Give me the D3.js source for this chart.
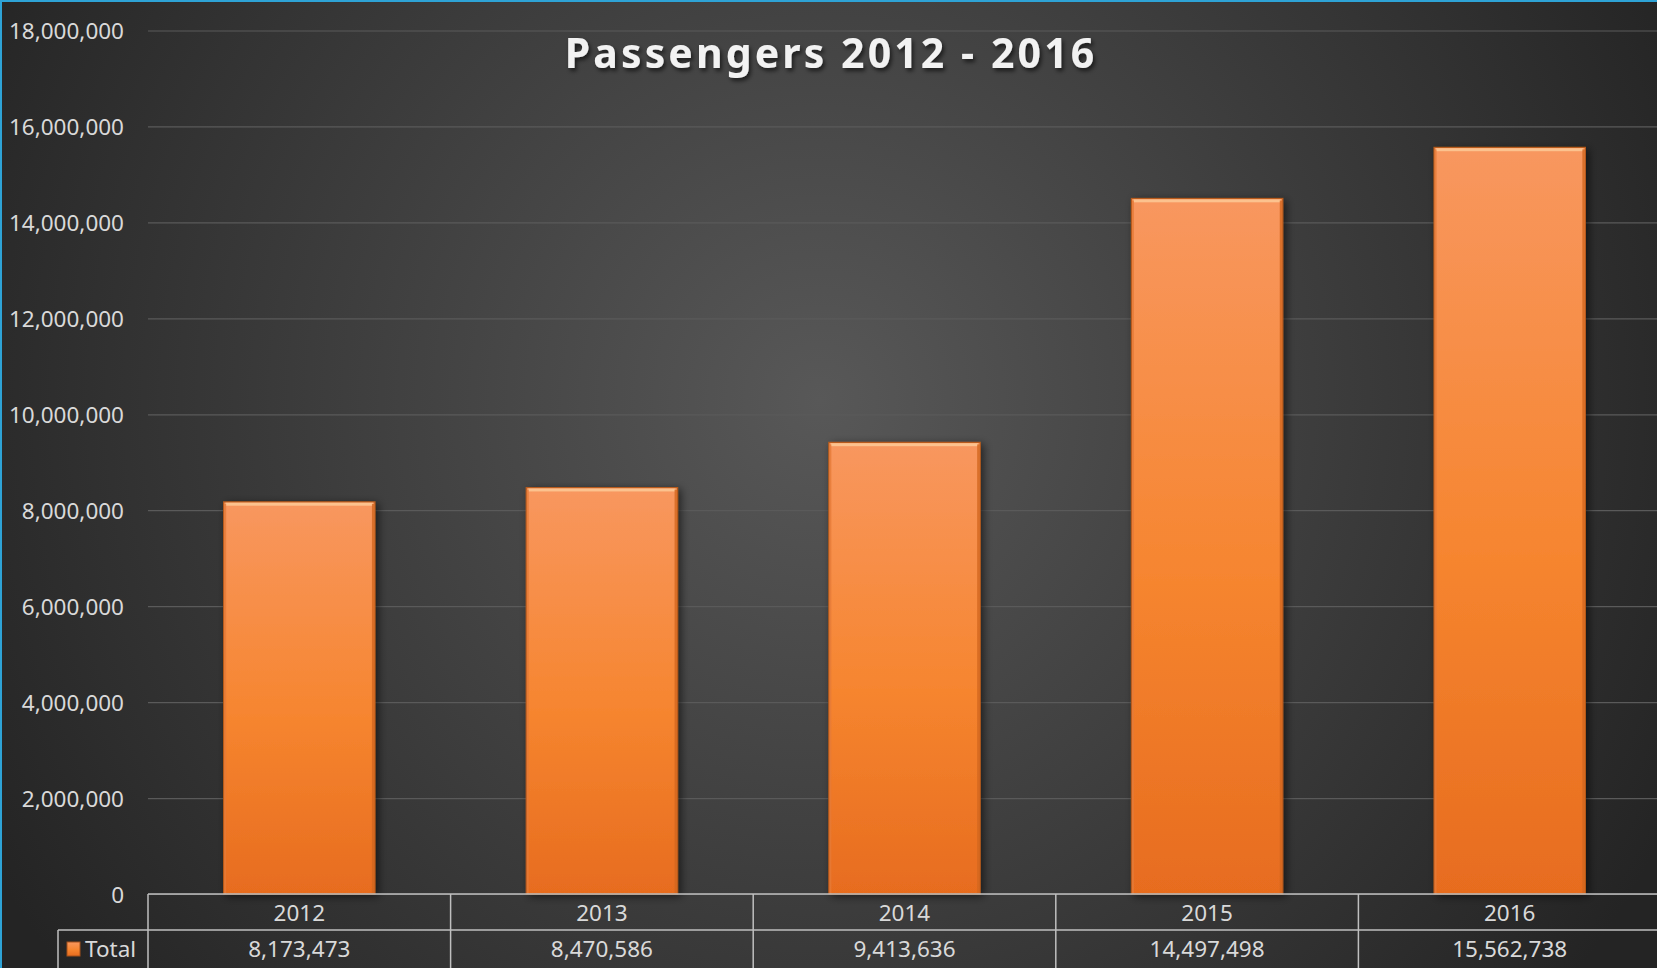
<!DOCTYPE html>
<html><head><meta charset="utf-8">
<script src="https://cdn.jsdelivr.net/npm/d3@7"></script>
<style>
html,body{margin:0;padding:0;background:#2b2b2b;overflow:hidden}
svg{display:block}
text{font-family:"Noto Sans","Open Sans",sans-serif}
</style></head><body>
<svg id="chart" width="1657" height="968"></svg>
<script>
const years = ["2012","2013","2014","2015","2016"];
const totals = [8173473, 8470586, 9413636, 14497498, 15562738];
const yTicks = [0,2000000,4000000,6000000,8000000,10000000,12000000,14000000,16000000,18000000];
const seriesName = "Total";
const title = "Passengers 2012 - 2016";

const W = 1657, H = 968;
const svg = d3.select("#chart");
const defs = svg.append("defs");

const bg = defs.append("radialGradient").attr("id","bg").attr("gradientUnits","userSpaceOnUse")
  .attr("cx",820).attr("cy",400).attr("r",950);
bg.append("stop").attr("offset","0%").attr("stop-color","#585858");
bg.append("stop").attr("offset","100%").attr("stop-color","#242424");

const bar = defs.append("linearGradient").attr("id","barg").attr("x1",0).attr("y1",0).attr("x2",0).attr("y2",1);
bar.append("stop").attr("offset","0%").attr("stop-color","#f8975f");
bar.append("stop").attr("offset","55%").attr("stop-color","#f6852f");
bar.append("stop").attr("offset","100%").attr("stop-color","#e76c1f");

const sh = defs.append("filter").attr("id","sh").attr("x","-20%").attr("y","-10%").attr("width","140%").attr("height","120%");
sh.append("feDropShadow").attr("dx",3).attr("dy",2).attr("stdDeviation",4).attr("flood-color","#000").attr("flood-opacity",0.55);

const tsh = defs.append("filter").attr("id","tsh").attr("x","-10%").attr("y","-30%").attr("width","120%").attr("height","160%");
tsh.append("feDropShadow").attr("dx",2).attr("dy",3).attr("stdDeviation",2).attr("flood-color","#000").attr("flood-opacity",0.6);

svg.append("rect").attr("width",W).attr("height",H).attr("fill","url(#bg)");

const pLeft = 148, pRight = 1661, pTop = 30.5, pBottom = 894;
const x = d3.scaleBand().domain(years).range([pLeft,pRight]).paddingInner(0.5).paddingOuter(0.25);
const y = d3.scaleLinear().domain([0,18000000]).range([pBottom,pTop]);

// gridlines
const grid = svg.append("g").attr("transform",`translate(${pLeft},0)`)
  .call(d3.axisLeft(y).tickValues(yTicks).tickSize(-(pRight-pLeft)).tickFormat(""));
grid.select(".domain").remove();
grid.selectAll("line").attr("stroke","#5a5a5a").attr("stroke-width",1.2);

// y labels
const ya = svg.append("g").attr("transform",`translate(${pLeft},0)`)
  .call(d3.axisLeft(y).tickValues(yTicks).tickSize(0).tickPadding(24).tickFormat(d3.format(",")));
ya.select(".domain").remove();
ya.selectAll("text").attr("fill","#d9d9d9").attr("font-size",22.5).attr("dy","0.36em");

// title
svg.append("text").attr("x",831).attr("y",68).attr("text-anchor","middle")
  .attr("fill","#f2f2f2").attr("font-size",41).attr("font-weight","bold")
  .attr("letter-spacing",3.1).attr("filter","url(#tsh)").text(title);

// bars
const bars = svg.append("g").selectAll("g").data(years).join("g");
bars.append("rect").attr("x",d=>x(d)).attr("width",x.bandwidth())
  .attr("y",(d,i)=>y(totals[i])).attr("height",(d,i)=>y(0)-y(totals[i]))
  .attr("fill","url(#barg)").attr("stroke","#b85a1a").attr("stroke-width",1.2).attr("filter","url(#sh)");
bars.append("rect").attr("x",d=>x(d)+2).attr("width",x.bandwidth()-4)
  .attr("y",(d,i)=>y(totals[i])+0.8).attr("height",3)
  .attr("fill","#fcc793").attr("opacity",0.9);
bars.append("rect").attr("x",d=>x(d)+x.bandwidth()-3).attr("width",2.5)
  .attr("y",(d,i)=>y(totals[i])+2).attr("height",(d,i)=>y(0)-y(totals[i])-2)
  .attr("fill","#d2661f").attr("opacity",0.8);
bars.append("rect").attr("x",d=>x(d)+0.5).attr("width",2)
  .attr("y",(d,i)=>y(totals[i])+2).attr("height",(d,i)=>y(0)-y(totals[i])-2)
  .attr("fill","#e57a38").attr("opacity",0.8);

// data table
const step = x.step();
const rowMid = 930, tBottom = 968, legLeft = 58;
const tbl = svg.append("g").attr("stroke","#bfbfbf").attr("stroke-width",1.5);
tbl.append("line").attr("x1",pLeft).attr("x2",pRight).attr("y1",pBottom).attr("y2",pBottom);
tbl.append("line").attr("x1",legLeft).attr("x2",pRight).attr("y1",rowMid).attr("y2",rowMid);
tbl.append("line").attr("x1",legLeft).attr("x2",legLeft).attr("y1",rowMid).attr("y2",tBottom);
tbl.selectAll(".v").data(d3.range(years.length)).join("line")
  .attr("x1",i=>pLeft+i*step).attr("x2",i=>pLeft+i*step).attr("y1",pBottom).attr("y2",tBottom);

const cats = svg.append("g");
cats.selectAll(".c").data(years).join("text")
  .attr("x",d=>x(d)+x.bandwidth()/2).attr("y",921).attr("text-anchor","middle")
  .attr("fill","#d9d9d9").attr("font-size",22.5).text(d=>d);
cats.selectAll(".v").data(years).join("text")
  .attr("x",d=>x(d)+x.bandwidth()/2).attr("y",957).attr("text-anchor","middle")
  .attr("fill","#d9d9d9").attr("font-size",22.5).text((d,i)=>d3.format(",")(totals[i]));

svg.append("rect").attr("x",67).attr("y",942).attr("width",13).attr("height",14)
  .attr("fill","url(#barg)").attr("stroke","#a4501a").attr("stroke-width",1);
svg.append("text").attr("x",85).attr("y",957).attr("fill","#d9d9d9").attr("font-size",22.5).text(seriesName);

// frame edges
svg.append("line").attr("x1",0).attr("x2",W).attr("y1",1).attr("y2",1).attr("stroke","#2ea3d6").attr("stroke-width",2);
svg.append("line").attr("x1",1).attr("x2",1).attr("y1",0).attr("y2",H).attr("stroke","#2ea3d6").attr("stroke-width",2);
</script></body></html>
